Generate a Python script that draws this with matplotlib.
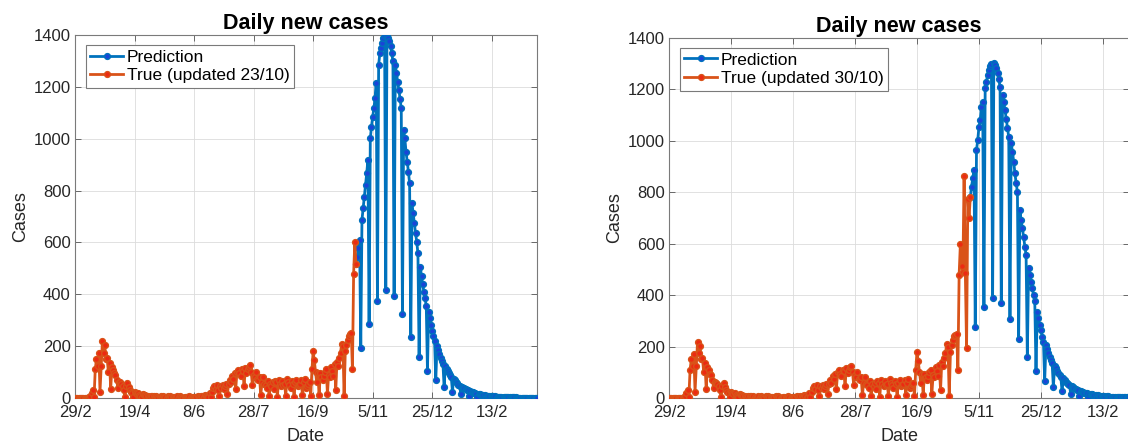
import pandas as pd
import matplotlib
matplotlib.use("Agg")
import matplotlib.pyplot as plt

plt.rcParams["font.family"] = ["Liberation Sans", "DejaVu Sans"]

BLUE = "#0072BD"
ORANGE = "#D95319"
BLUE_DOT = "#1a44d8"
ORANGE_DOT = "#ec2a12"
TEXT = "#262626"

FIRST_DAY = pd.Timestamp("2020-02-29")

# reported daily cases, 29/2 .. 29/10 (one row per week)
true_cases = [
    0, 0, 0, 0, 0, 0, 0,
    0, 0, 0, 1, 0, 2, 8,
    20, 30, 2, 110, 150, 125, 172,
    25, 123, 218, 175, 204, 150, 155,
    100, 135, 35, 120, 108, 95, 88,
    70, 38, 62, 60, 55, 48, 30,
    4, 45, 58, 42, 32, 22, 18,
    3, 25, 20, 15, 18, 12, 8,
    2, 14, 10, 12, 8, 9, 5,
    1, 8, 6, 9, 5, 7, 3,
    0, 5, 8, 4, 6, 3, 2,
    0, 6, 4, 7, 3, 5, 2,
    0, 4, 6, 3, 8, 4, 1,
    0, 3, 5, 2, 4, 6, 2,
    0, 3, 2, 5, 4, 6, 3,
    0, 6, 8, 5, 10, 7, 4,
    3, 20, 2, 25, 40, 45, 35,
    50, 30, 8, 45, 40, 52, 35,
    48, 55, 15, 55, 70, 60, 85,
    75, 95, 35, 100, 108, 95, 85,
    110, 105, 45, 115, 96, 110, 120,
    126, 100, 50, 90, 82, 100, 75,
    70, 80, 10, 60, 80, 55, 50,
    40, 65, 8, 55, 45, 60, 35,
    65, 60, 5, 70, 55, 45, 65,
    50, 55, 8, 75, 60, 50, 40,
    65, 55, 5, 60, 70, 45, 50,
    55, 70, 10, 60, 75, 40, 45,
    55, 60, 8, 110, 180, 145, 100,
    60, 95, 10, 95, 80, 70, 85,
    100, 110, 15, 90, 80, 120, 105,
    85, 130, 30, 140, 125, 155, 175,
    210, 200, 8, 180, 205, 225, 240,
    245, 250, 110, 480, 600, 515, 490,
    865, 485, 195, 775, 700, 780,
]
n_true_2310 = 237   # data known on 23/10 (up to 22/10)
n_true_3010 = 244   # data known on 30/10 (up to 29/10)

# model prediction made on 23/10, starting 22/10
pred_2310_start = pd.Timestamp("2020-10-22")
pred_2310 = [
    515, 545, 577, 609, 194, 687, 732,
    777, 821, 867, 918, 285, 1001, 1047,
    1085, 1117, 1156, 1214, 374, 1284, 1329,
    1349, 1368, 1387, 1396, 416, 1397, 1390,
    1378, 1358, 1330, 1300, 393, 1284, 1252,
    1220, 1188, 1155, 1117, 323, 1034, 1001,
    950, 911, 873, 828, 236, 751, 712,
    674, 635, 603, 558, 159, 506, 470,
    440, 410, 385, 355, 105, 333, 307,
    282, 258, 238, 218, 69, 200, 184,
    170, 156, 144, 132, 42, 122, 112,
    103, 95, 87, 80, 25, 74, 68,
    62, 57, 52, 48, 15, 44, 40,
    37, 34, 31, 29, 9, 26, 24,
    22, 20, 19, 17, 5, 16, 15,
    13, 12, 11, 10, 3, 9, 9,
    8, 7, 7, 6, 2, 6, 5,
    5, 4, 4, 4, 1, 3, 3,
    3, 3, 2, 2, 1, 2, 2,
    2, 2, 1, 1, 0, 1, 1,
    1, 1, 1, 1, 0, 1, 1,
    1, 1, 1, 1, 0, 1,
]

# model prediction made on 30/10, starting 29/10
pred_3010_start = pd.Timestamp("2020-10-29")
pred_3010 = [
    780, 822, 855, 887, 277, 964, 1003,
    1055, 1081, 1133, 1152, 353, 1204, 1230,
    1256, 1276, 1292, 1300, 390, 1302, 1296,
    1284, 1265, 1240, 1210, 368, 1180, 1150,
    1120, 1085, 1050, 1015, 306, 990, 958,
    919, 874, 835, 802, 228, 731, 692,
    660, 627, 589, 556, 158, 504, 478,
    452, 427, 400, 378, 106, 336, 310,
    284, 264, 238, 219, 67, 205, 190,
    175, 161, 148, 136, 42, 125, 115,
    106, 97, 89, 82, 26, 76, 70,
    64, 59, 54, 50, 15, 46, 42,
    38, 35, 32, 30, 9, 27, 25,
    23, 21, 19, 18, 5, 16, 15,
    14, 13, 12, 11, 3, 10, 9,
    8, 8, 7, 7, 2, 6, 6,
    5, 5, 4, 4, 1, 4, 3,
    3, 3, 3, 2, 1, 2, 2,
    2, 2, 2,
]

tick_dates = pd.date_range(FIRST_DAY, periods=8, freq="50D")
tick_labels = [f"{d.day}/{d.month}" for d in tick_dates]
y_ticks = [0, 200, 400, 600, 800, 1000, 1200, 1400]


def draw_panel(ax, pred_start, pred, n_true, true_label):
    pdates = pd.date_range(pred_start, periods=len(pred))
    tdates = pd.date_range(FIRST_DAY, periods=n_true)
    ax.plot(pdates, pred, "-o", color=BLUE, lw=2.0, ms=4.2, mew=1.0,
            mec=BLUE, mfc=BLUE_DOT, label="Prediction", zorder=3)
    ax.plot(tdates, true_cases[:n_true], "-o", color=ORANGE, lw=2.0, ms=4.2,
            mew=1.0, mec=ORANGE, mfc=ORANGE_DOT, label=true_label, zorder=4)

    ax.set_xlim(FIRST_DAY, pdates[-1])
    ax.set_ylim(0, 1400)
    ax.set_xticks(tick_dates)
    ax.set_xticklabels(tick_labels)
    ax.set_yticks(y_ticks)
    ax.grid(True, color="#dcdcdc", lw=0.6)
    ax.set_axisbelow(True)
    ax.tick_params(direction="in", length=4, width=0.6, top=True, right=True,
                   colors="#555555", labelcolor=TEXT, labelsize=12)
    ax.tick_params(axis="x", pad=5)
    ax.tick_params(axis="y", pad=3)
    for s in ax.spines.values():
        s.set_color("#7a7a7a")
        s.set_linewidth(0.8)

    ax.set_title("Daily new cases", fontsize=15.5, fontweight="bold", color="black", pad=4)
    ax.set_xlabel("Date", fontsize=13, color=TEXT, labelpad=6)
    ax.set_ylabel("Cases", fontsize=13, color=TEXT, labelpad=3)

    leg = ax.legend(loc="upper left", bbox_to_anchor=(0.024, 0.972), borderaxespad=0,
                    fontsize=12.5, handlelength=1.9, handletextpad=0.2,
                    borderpad=0.25, labelspacing=0.2, fancybox=False,
                    framealpha=1, edgecolor="#7a7a7a")
    leg.get_frame().set_linewidth(0.8)


fig = plt.figure(figsize=(11.28, 4.46), dpi=100)
ax1 = fig.add_axes([75 / 1128, 48 / 446, 462 / 1128, 363 / 446])
ax2 = fig.add_axes([669 / 1128, 48 / 446, 460 / 1128, 360 / 446])

draw_panel(ax1, pred_2310_start, pred_2310, n_true_2310, "True (updated 23/10)")
draw_panel(ax2, pred_3010_start, pred_3010, n_true_3010, "True (updated 30/10)")

fig.savefig("out.png", dpi=100)
